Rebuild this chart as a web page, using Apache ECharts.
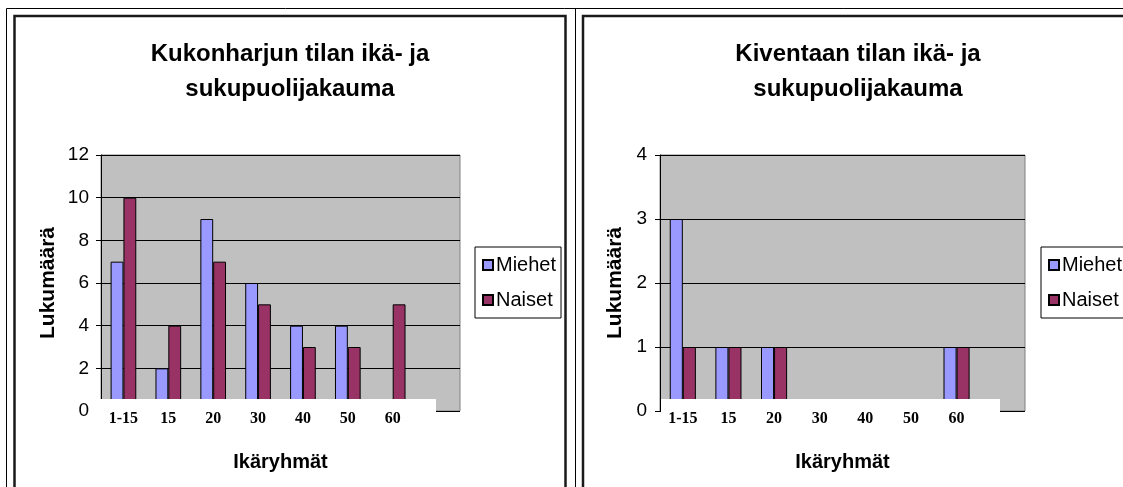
<!DOCTYPE html>
<html>
<head>
<meta charset="utf-8">
<script src="https://cdn.jsdelivr.net/npm/echarts@6/dist/echarts.min.js"></script>
<style>
html,body{margin:0;padding:0;background:#fff;}
#c{width:1123px;height:487px;}
</style>
</head>
<body>
<div id="c"></div>
<script>
var categories = ['1-15','15','20','30','40','50','60',''];
var seriesNames = ['Miehet','Naiset'];
var kukonMiehet = [7,2,9,6,4,4,0,null];
var kukonNaiset = [10,4,7,5,3,3,5,null];
var kiventaaMiehet = [3,1,1,0,0,0,1,null];
var kiventaaNaiset = [1,1,1,0,0,0,1,null];
var titles = ['Kukonharjun tilan ikä- ja\nsukupuolijakauma','Kiventaan tilan ikä- ja\nsukupuolijakauma'];
var yName = 'Lukumäärä';
var xName = 'Ikäryhmät';
var yMax = [12,4];
var yInterval = [2,1];

var SANS = '"Liberation Sans", Arial, sans-serif';
var SERIF = '"Liberation Serif", "Times New Roman", serif';
var colors = ['#9999FF','#993366'];

var grids = [
  {left:101, top:155, width:359, height:256},
  {left:660, top:155, width:365, height:256}
];

function xAxisFor(i){
  return {
    type:'category', gridIndex:i, data:categories, z:6,
    axisLine:{show:false}, axisTick:{show:false},
    axisLabel:{fontFamily:SERIF, fontWeight:'bold', fontSize:16, color:'#000', margin:0, interval:0},
    name:xName, nameLocation:'middle', nameGap:41,
    nameTextStyle:{fontFamily:SANS, fontWeight:'bold', fontSize:20, color:'#000'}
  };
}
function yAxisFor(i, nameGap, labelMargin){
  return {
    type:'value', gridIndex:i, min:0, max:yMax[i], interval:yInterval[i],
    axisLine:{show:true, lineStyle:{color:'#000', width:1}},
    axisTick:{show:true, inside:false, length:5, lineStyle:{color:'#000'}},
    axisLabel:{fontFamily:SANS, fontSize:19, color:'#000', margin:labelMargin},
    splitLine:{show:true, lineStyle:{color:'#000', width:1}},
    name:yName, nameLocation:'middle', nameGap:nameGap,
    nameTextStyle:{fontFamily:SANS, fontWeight:'bold', fontSize:21, color:'#000'}
  };
}
function barSeries(name, data, i, color){
  return {
    type:'bar', name:name, data:data, xAxisIndex:i, yAxisIndex:i,
    barWidth:'28.6%', barGap:'0%',
    itemStyle:{color:color, borderColor:'#000', borderWidth:1},
    emphasis:{disabled:true}, animation:false
  };
}
function legendFor(left){
  return {
    orient:'vertical', left:left, top:247, data:seriesNames,
    icon:'rect', itemWidth:10, itemHeight:10, itemGap:15,
    padding:[8,5,8,7], borderColor:'#000', borderWidth:1, backgroundColor:'#fff',
    textStyle:{fontFamily:SANS, fontSize:20, color:'#000', padding:[0,0,0,-2]},
    selectedMode:false
  };
}

var option = {
  animation:false,
  backgroundColor:'#fff',
  title:[
    {text:titles[0], left:290, top:37, textAlign:'center', padding:0,
     textStyle:{fontFamily:SANS, fontWeight:'bold', fontSize:24, lineHeight:35, color:'#000'}},
    {text:titles[1], left:858, top:37, textAlign:'center', padding:0,
     textStyle:{fontFamily:SANS, fontWeight:'bold', fontSize:24, lineHeight:35, color:'#000'}}
  ],
  legend:[legendFor(475), legendFor(1041)],
  grid:grids.map(function(g){
    return {left:g.left, top:g.top, width:g.width, height:g.height, show:true,
            backgroundColor:'#C0C0C0', borderColor:'#808080', borderWidth:1, containLabel:false};
  }),
  xAxis:[xAxisFor(0), xAxisFor(1)],
  yAxis:[yAxisFor(0, 42, 12), yAxisFor(1, 34, 13)],
  series:[
    barSeries(seriesNames[0], kukonMiehet, 0, colors[0]),
    barSeries(seriesNames[1], kukonNaiset, 0, colors[1]),
    barSeries(seriesNames[0], kiventaaMiehet, 1, colors[0]),
    barSeries(seriesNames[1], kiventaaNaiset, 1, colors[1])
  ],
  graphic:[
    {type:'rect', z:5, shape:{x:96, y:399, width:340, height:36}, style:{fill:'#fff'}},
    {type:'rect', z:5, shape:{x:661, y:399, width:339, height:36}, style:{fill:'#fff'}},
    {type:'line', z:7, shape:{x1:6.5, y1:8.5, x2:1123, y2:8.5}, style:{stroke:'#000', lineWidth:1}},
    {type:'line', z:7, shape:{x1:6.5, y1:8.5, x2:6.5, y2:487}, style:{stroke:'#000', lineWidth:1}},
    {type:'line', z:7, shape:{x1:575.5, y1:8.5, x2:575.5, y2:487}, style:{stroke:'#000', lineWidth:1}},
    {type:'rect', z:7, shape:{x:14.5, y:16, width:551, height:480}, style:{fill:null, stroke:'#1a1a1a', lineWidth:2.5}},
    {type:'rect', z:7, shape:{x:583, y:16, width:560, height:480}, style:{fill:null, stroke:'#1a1a1a', lineWidth:2.5}}
  ]
};

var chart = echarts.init(document.getElementById('c'), null, {renderer:'canvas'});
chart.setOption(option);
</script>
</body>
</html>
